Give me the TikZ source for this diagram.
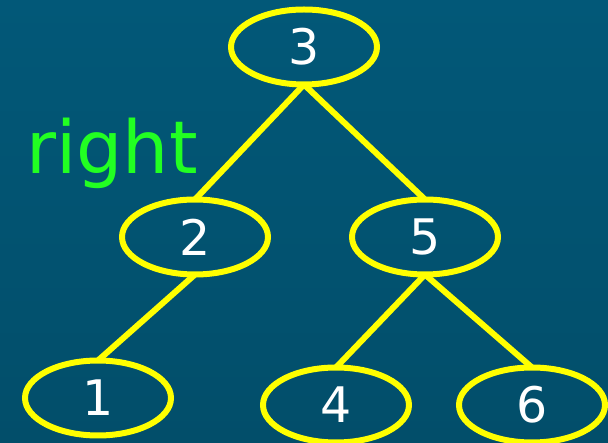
\documentclass[tikz,border=0pt]{standalone}
\usepackage{fontspec}
\setmainfont{DejaVu Sans}
\usetikzlibrary{shapes.geometric}
\definecolor{bgc}{RGB}{2,88,120}
\definecolor{bgd}{RGB}{2,78,106}
\definecolor{ylw}{RGB}{255,255,0}
\definecolor{grn}{RGB}{34,255,34}
\begin{document}
\begin{tikzpicture}[x=1pt,y=-1pt,
  tnode/.style={ellipse,draw=ylw,line width=6pt,minimum width=146pt,minimum height=75pt,inner sep=0pt,outer sep=0pt,text=white,font=\fontsize{49}{49}\selectfont},
  tedge/.style={draw=ylw,line width=6pt}]
\useasboundingbox (0,0) rectangle (608,443);
\shade[top color=bgc,bottom color=bgd] (0,0) rectangle (608,443);
\node[tnode] (n3) at (304,47) {3};
\node[tnode] (n2) at (195,237) {2};
\node[tnode] (n5) at (425,237) {5};
\node[tnode] (n1) at (98,398) {1};
\node[tnode] (n4) at (336,405) {4};
\node[tnode] (n6) at (532,405) {6};
\node[text=grn,font=\fontsize{73}{73}\selectfont,anchor=base west,inner sep=0pt] (lbl) at (26,174) {right};
\draw[tedge] (n3.south) -- (n2.north);
\draw[tedge] (n3.south) -- (n5.north);
\draw[tedge] (n2.south) -- (n1.north);
\draw[tedge] (n5.south) -- (n4.north);
\draw[tedge] (n5.south) -- (n6.north);
\end{tikzpicture}
\end{document}
